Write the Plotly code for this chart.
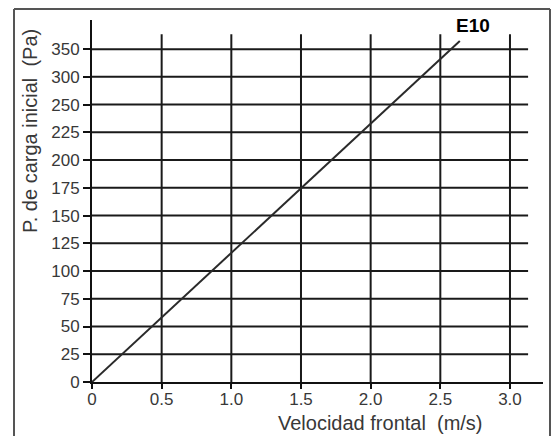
import plotly.graph_objects as go

# Data
x_ticks = [0, 0.5, 1.0, 1.5, 2.0, 2.5, 3.0]
x_tick_labels = ["0", "0.5", "1.0", "1.5", "2.0", "2.5", "3.0"]
y_rows = list(range(13))
y_tick_labels = ["0", "25", "50", "75", "100", "125", "150", "175", "200",
                 "225", "250", "300", "350"]
line_x = [0.0, 2.64]
line_y = [0.0, 12.29]   # in row units of the (evenly spaced) y ticks
series_name = "E10"

W, H = 557, 436
L, R, T, B = 92, 14, 20, 54
pw, ph = W - L - R, H - T - B

font_fam = "Liberation Sans, Arial, sans-serif"
grid_col = "#1a1a1a"

fig = go.Figure()
fig.add_trace(go.Scatter(x=line_x, y=line_y, mode="lines",
                         line=dict(color="#2a2a2a", width=2),
                         showlegend=False, hoverinfo="skip"))

shapes = []
# horizontal grid lines
for r in y_rows[1:]:
    shapes.append(dict(type="line", xref="x", yref="y", x0=0, x1=3.13, y0=r, y1=r,
                       line=dict(color=grid_col, width=2), layer="below"))
# vertical grid lines
for xv in x_ticks[1:]:
    shapes.append(dict(type="line", xref="x", yref="y", x0=xv, x1=xv, y0=0, y1=12.54,
                       line=dict(color=grid_col, width=2), layer="below"))
# outer frame (left, top, right edges; bottom runs off the picture)
fx0 = (14 - L) / pw
fx1 = (550 - L) / pw
fy1 = (H - B - 9) / ph
fy0 = (H - B - 440) / ph
frame_line = dict(color="#555555", width=2)
shapes.append(dict(type="line", xref="paper", yref="paper", x0=fx0, x1=fx0, y0=fy0, y1=fy1, line=frame_line))
shapes.append(dict(type="line", xref="paper", yref="paper", x0=fx1, x1=fx1, y0=fy0, y1=fy1, line=frame_line))
shapes.append(dict(type="line", xref="paper", yref="paper", x0=fx0, x1=fx1, y0=fy1, y1=fy1, line=frame_line))

annotations = [
    dict(text="<b>" + series_name + "</b>", x=2.735, y=12.86, xref="x", yref="y", showarrow=False,
         font=dict(family=font_fam, size=19, color="#000000"), xanchor="center", yanchor="middle"),
    dict(text="Velocidad frontal  (m/s)", xref="paper", yref="paper",
         x=(380 - L) / pw, y=(H - B - 423) / ph, showarrow=False,
         font=dict(family=font_fam, size=20, color="#383838"), xanchor="center", yanchor="middle"),
    dict(text="P. de carga inicial  (Pa)", xref="paper", yref="paper",
         x=(30 - L) / pw, y=(H - B - 131) / ph, showarrow=False, textangle=-90,
         font=dict(family=font_fam, size=20, color="#383838"), xanchor="center", yanchor="middle"),
]

fig.update_layout(
    width=W, height=H,
    margin=dict(l=L, r=R, t=T, b=B, pad=0),
    paper_bgcolor="white", plot_bgcolor="white",
    shapes=shapes, annotations=annotations,
    xaxis=dict(range=[0, 3.237], tickvals=x_ticks, ticktext=x_tick_labels,
               showgrid=False, zeroline=False, showline=True, linecolor="#111111", linewidth=2,
               ticks="outside", ticklen=5, tickwidth=2, tickcolor="#111111", ticklabelstandoff=-4,
               tickfont=dict(family=font_fam, size=17, color="#383838"), fixedrange=True),
    yaxis=dict(range=[0, 13.05], tickvals=y_rows, ticktext=y_tick_labels,
               showgrid=False, zeroline=False, showline=True, linecolor="#111111", linewidth=2,
               ticks="outside", ticklen=7, tickwidth=2, tickcolor="#111111",
               tickfont=dict(family=font_fam, size=17, color="#383838"), fixedrange=True),
)

fig.write_html("out.html",
               config={"displayModeBar": False},
               post_script="document.body.style.margin='0px';document.body.style.overflow='hidden';")
